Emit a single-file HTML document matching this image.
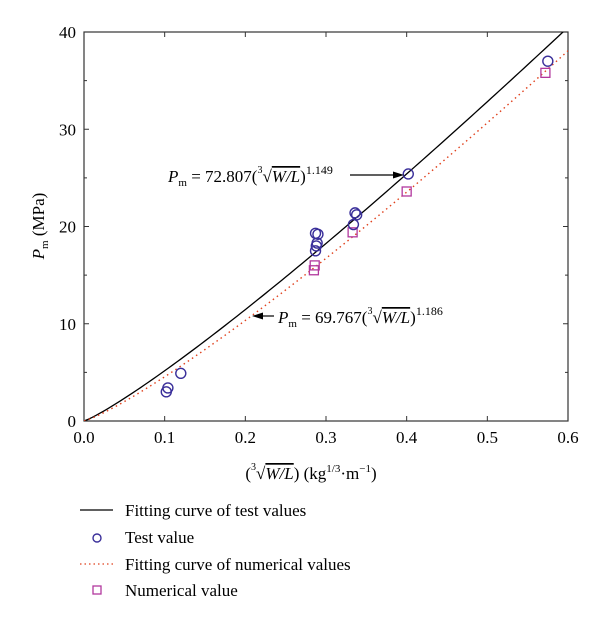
<!DOCTYPE html>
<html><head><meta charset="utf-8"><style>
html,body{margin:0;padding:0;background:#fff;}
svg{display:block;font-family:"Liberation Serif",serif;}
</style></head><body>
<svg id="chart" width="600" height="618" viewBox="0 0 600 618" xmlns="http://www.w3.org/2000/svg">
<defs><clipPath id="pc"><rect x="84" y="32" width="484" height="389"/></clipPath></defs>
<g id="grid"></g>
<g id="marks" clip-path="url(#pc)"></g>
<g>
<text x="168" y="182" font-size="17"><tspan font-style="italic">P</tspan><tspan font-size="11" dy="4">m</tspan><tspan dy="-4"> = 72.807(</tspan><tspan font-size="10" dy="-9">3</tspan><tspan dy="9">√</tspan><tspan font-style="italic" text-decoration="overline">W/L</tspan><tspan>)</tspan><tspan font-size="12" dy="-8">1.149</tspan></text>
<line x1="350" y1="175" x2="398" y2="175" stroke="#000" stroke-width="1.2"/><polygon points="404,175 393,171.5 393,178.5" fill="#000"/>
</g>
<g>
<line x1="258" y1="316" x2="274" y2="316" stroke="#000" stroke-width="1.2"/><polygon points="252,316 263,312.5 263,319.5" fill="#000"/>
<text x="278" y="323" font-size="17"><tspan font-style="italic">P</tspan><tspan font-size="11" dy="4">m</tspan><tspan dy="-4"> = 69.767(</tspan><tspan font-size="10" dy="-9">3</tspan><tspan dy="9">√</tspan><tspan font-style="italic" text-decoration="overline">W/L</tspan><tspan>)</tspan><tspan font-size="12" dy="-8">1.186</tspan></text>
</g>
<text x="311" y="479" font-size="17" text-anchor="middle">(<tspan font-size="10" dy="-9">3</tspan><tspan dy="9">√</tspan><tspan font-style="italic" text-decoration="overline">W/L</tspan>) (kg<tspan font-size="11" dy="-7">1/3</tspan><tspan dy="7">·m</tspan><tspan font-size="11" dy="-7">−1</tspan><tspan dy="7">)</tspan></text>
<text transform="translate(44,226) rotate(-90)" font-size="17" text-anchor="middle"><tspan font-style="italic">P</tspan><tspan font-size="11" dy="4">m</tspan><tspan dy="-4"> (MPa)</tspan></text>
<g font-size="17">
<g><line x1="80" y1="510" x2="113" y2="510" stroke="#000" stroke-width="1.2"/><text x="125" y="516">Fitting curve of test values</text></g>
<g><circle cx="97" cy="538" r="4" fill="none" stroke="#3a2f9a" stroke-width="1.4"/><text x="125" y="543">Test value</text></g>
<g><line x1="80" y1="564" x2="113" y2="564" stroke="#e0401c" stroke-width="1.3" stroke-dasharray="1.5,3"/><text x="125" y="570">Fitting curve of numerical values</text></g>
<g><rect x="93" y="586" width="8" height="8" fill="none" stroke="#b2389e" stroke-width="1.3"/><text x="125" y="596">Numerical value</text></g>
</g>
</svg>
<script>
const xTicks=[0,0.1,0.2,0.3,0.4,0.5,0.6];
const xTickLabels=["0.0","0.1","0.2","0.3","0.4","0.5","0.6"];
const yTicks=[0,10,20,30,40];
const yTickLabels=["0","10","20","30","40"];
const testX=[0.102,0.104,0.120,0.287,0.288,0.289,0.287,0.290,0.334,0.336,0.338,0.402,0.575];
const testY=[3.0,3.4,4.9,17.5,18.0,18.3,19.3,19.2,20.2,21.4,21.2,25.4,37.0];
const numX=[0.285,0.286,0.333,0.400,0.572];
const numY=[15.5,16.0,19.4,23.6,35.8];
const testFit=[72.807,1.149];
const numFit=[69.767,1.186];
const NS="http://www.w3.org/2000/svg";
const X0=84,X1=568,Y0=421,Y1=32;
const sx=v=>X0+(v-0)/(0.6-0)*(X1-X0);
const sy=v=>Y0-(v-0)/(40-0)*(Y0-Y1);
function mk(tag,attrs,parent){const e=document.createElementNS(NS,tag);for(const k in attrs)e.setAttribute(k,attrs[k]);parent.appendChild(e);return e;}
const grid=document.getElementById('grid'),marks=document.getElementById('marks');
const frame=mk('rect',{x:X0,y:Y1,width:X1-X0,height:Y0-Y1,fill:'none',stroke:'#333','stroke-width':1.2},grid);


xTicks.forEach((t,i)=>{const x=sx(t);
mk('line',{x1:x,y1:Y0,x2:x,y2:Y0-5,stroke:'#333'},grid);
mk('line',{x1:x,y1:Y1,x2:x,y2:Y1+5,stroke:'#333'},grid);
const l=mk('text',{x:x,y:Y0+22,'font-size':17,'text-anchor':'middle'},grid);l.textContent=xTickLabels[i];


});
for(let v=5;v<40;v+=10){const y=sy(v);mk('line',{x1:X0,y1:y,x2:X0+3,y2:y,stroke:'#333'},grid);mk('line',{x1:X1,y1:y,x2:X1-3,y2:y,stroke:'#333'},grid);}
yTicks.forEach((t,i)=>{const y=sy(t);
mk('line',{x1:X0,y1:y,x2:X0+5,y2:y,stroke:'#333'},grid);
mk('line',{x1:X1,y1:y,x2:X1-5,y2:y,stroke:'#333'},grid);
const l=mk('text',{x:X0-8,y:y+6,'font-size':17,'text-anchor':'end'},grid);l.textContent=yTickLabels[i];


});
function curve(p,attrs,name){let d='';for(let i=0;i<=120;i++){const x=0.6*i/120;d+=(i?'L':'M')+sx(x).toFixed(2)+','+sy(p[0]*Math.pow(x,p[1])).toFixed(2);}
const e=mk('path',Object.assign({d:d,fill:'none'},attrs),marks);

}
curve(testFit,{stroke:'#000','stroke-width':1.3},'test-fit-curve');
curve(numFit,{stroke:'#e0401c','stroke-width':1.4,'stroke-dasharray':'1.5,3.5'},'numerical-fit-curve');
numX.forEach((x,i)=>{const e=mk('rect',{x:sx(x)-4.5,y:sy(numY[i])-4.5,width:9,height:9,fill:'none',stroke:'#b2389e','stroke-width':1.3},marks);

});
testX.forEach((x,i)=>{const e=mk('circle',{cx:sx(x),cy:sy(testY[i]),r:5,fill:'none',stroke:'#3a2f9a','stroke-width':1.4},marks);

});
</script>
</body></html>
